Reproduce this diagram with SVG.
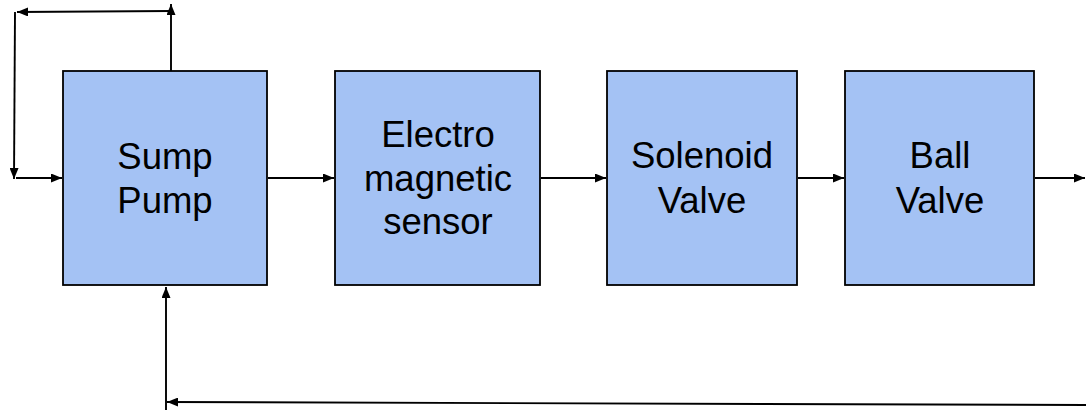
<svg xmlns="http://www.w3.org/2000/svg" width="1089" height="413" viewBox="0 0 1089 413">
<style>
.box{fill:#a4c2f4;stroke:#000;stroke-width:1.8}
.lbl{font-family:"Liberation Sans",Arial,sans-serif;font-size:36.5px;fill:#000;text-anchor:middle}
.c{fill:none;stroke:#000;stroke-width:1.9}
</style>
<defs>
<marker id="ah" markerWidth="11" markerHeight="9" refX="11" refY="4.5" orient="auto" markerUnits="userSpaceOnUse">
<path d="M0,0 L11,4.5 L0,9 Z" fill="#000"/>
</marker>
</defs>
<rect width="1089" height="413" fill="#fff"/>
<g id="connectors">
<path class="c" d="M171,73 L171,4" marker-end="url(#ah)"/>
<path class="c" d="M171,11 L17,12" marker-end="url(#ah)"/>
<path class="c" d="M15,12 L14,179" marker-end="url(#ah)"/>
<path class="c" d="M16,178 L62,178" marker-end="url(#ah)"/>
<path class="c" d="M268,178 L334,178" marker-end="url(#ah)"/>
<path class="c" d="M541,178 L606,178" marker-end="url(#ah)"/>
<path class="c" d="M798,178 L844,178" marker-end="url(#ah)"/>
<path class="c" d="M1035,178 L1085,178" marker-end="url(#ah)"/>
<path class="c" d="M166,410 L166,287" marker-end="url(#ah)"/>
<path class="c" d="M1086,405 L167,402" marker-end="url(#ah)"/>
</g>
<g id="sump">
<rect class="box" x="63" y="71" width="204" height="214"/>
<text class="lbl" x="165" y="169">Sump</text>
<text class="lbl" x="165" y="213">Pump</text>
</g>
<g id="sensor">
<rect class="box" x="335" y="71" width="205" height="214"/>
<text class="lbl" x="438" y="147">Electro</text>
<text class="lbl" x="438" y="191">magnetic</text>
<text class="lbl" x="438" y="234">sensor</text>
</g>
<g id="solenoid">
<rect class="box" x="607" y="71" width="190" height="214"/>
<text class="lbl" x="702" y="168">Solenoid</text>
<text class="lbl" x="702" y="213">Valve</text>
</g>
<g id="ball">
<rect class="box" x="845" y="71" width="189" height="214"/>
<text class="lbl" x="940" y="168">Ball</text>
<text class="lbl" x="940" y="213">Valve</text>
</g>
</svg>
